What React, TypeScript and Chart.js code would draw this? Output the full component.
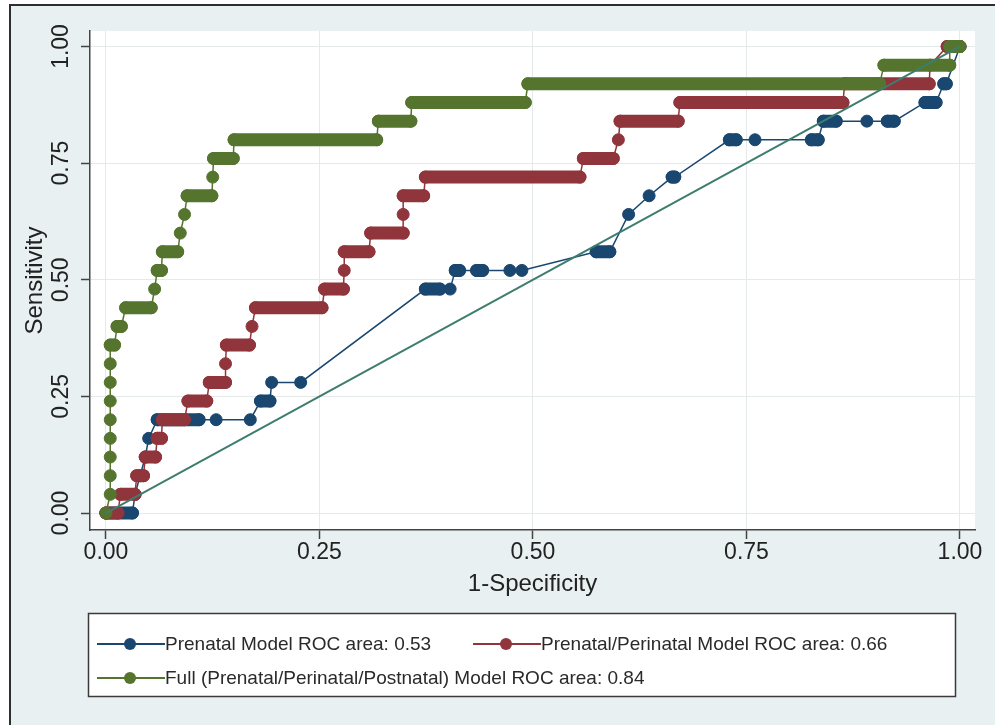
import React, { useEffect, useRef } from 'react';
import { Chart, registerables } from 'chart.js';

Chart.register(...registerables);

// ---------------- data ----------------
const seriesLabels = [
  'Prenatal Model ROC area: 0.53',
  'Prenatal/Perinatal Model ROC area: 0.66',
  'Full (Prenatal/Perinatal/Postnatal) Model ROC area: 0.84',
];
const seriesColors = ['#1a476f', '#90353b', '#55752f'];
const referenceColor = '#3e7d6e';

// each step: [1-specificity start, 1-specificity end, sensitivity]
const prenatalSteps: number[][] = [
  [0, 0.031, 0],
  [0.034, 0.034, 0.04],
  [0.040, 0.040, 0.08],
  [0.046, 0.046, 0.12],
  [0.050, 0.050, 0.16],
  [0.060, 0.109, 0.20],
  [0.129, 0.129, 0.20],
  [0.169, 0.169, 0.20],
  [0.181, 0.192, 0.24],
  [0.194, 0.194, 0.28],
  [0.228, 0.228, 0.28],
  [0.374, 0.391, 0.48],
  [0.403, 0.403, 0.48],
  [0.409, 0.414, 0.52],
  [0.434, 0.441, 0.52],
  [0.473, 0.473, 0.52],
  [0.487, 0.487, 0.52],
  [0.574, 0.590, 0.56],
  [0.612, 0.612, 0.64],
  [0.636, 0.636, 0.68],
  [0.663, 0.666, 0.72],
  [0.730, 0.738, 0.80],
  [0.760, 0.760, 0.80],
  [0.826, 0.834, 0.80],
  [0.840, 0.855, 0.84],
  [0.891, 0.891, 0.84],
  [0.915, 0.923, 0.84],
  [0.959, 0.972, 0.88],
  [0.981, 0.984, 0.92],
  [1, 1, 1],
];

const perinatalSteps: number[][] = [
  [0, 0.014, 0],
  [0.017, 0.034, 0.04],
  [0.036, 0.044, 0.08],
  [0.046, 0.058, 0.12],
  [0.060, 0.065, 0.16],
  [0.066, 0.092, 0.20],
  [0.096, 0.118, 0.24],
  [0.121, 0.140, 0.28],
  [0.140, 0.140, 0.32],
  [0.141, 0.168, 0.36],
  [0.171, 0.171, 0.40],
  [0.175, 0.253, 0.44],
  [0.256, 0.278, 0.48],
  [0.279, 0.279, 0.52],
  [0.279, 0.308, 0.56],
  [0.310, 0.348, 0.60],
  [0.348, 0.348, 0.64],
  [0.348, 0.372, 0.68],
  [0.374, 0.555, 0.72],
  [0.559, 0.594, 0.76],
  [0.600, 0.600, 0.80],
  [0.602, 0.670, 0.84],
  [0.672, 0.863, 0.88],
  [0.865, 0.964, 0.92],
  [0.965, 0.965, 0.96],
  [0.985, 1, 1],
];

const fullSteps: number[][] = [
  [0, 0, 0],
  [0.005, 0.005, 0.04],
  [0.005, 0.005, 0.08],
  [0.005, 0.005, 0.12],
  [0.005, 0.005, 0.16],
  [0.005, 0.005, 0.20],
  [0.005, 0.005, 0.24],
  [0.005, 0.005, 0.28],
  [0.005, 0.005, 0.32],
  [0.005, 0.010, 0.36],
  [0.013, 0.018, 0.40],
  [0.023, 0.053, 0.44],
  [0.057, 0.057, 0.48],
  [0.060, 0.065, 0.52],
  [0.066, 0.084, 0.56],
  [0.087, 0.087, 0.60],
  [0.092, 0.092, 0.64],
  [0.095, 0.124, 0.68],
  [0.125, 0.125, 0.72],
  [0.126, 0.149, 0.76],
  [0.150, 0.317, 0.80],
  [0.319, 0.357, 0.84],
  [0.358, 0.491, 0.88],
  [0.494, 0.906, 0.92],
  [0.911, 0.988, 0.96],
  [0.988, 1, 1],
];

const referenceLine: number[][] = [
  [0, 0],
  [1, 1],
];

const xTickValues = [0, 0.25, 0.5, 0.75, 1];
const xTickLabels = ['0.00', '0.25', '0.50', '0.75', '1.00'];
const yTickValues = [0, 0.25, 0.5, 0.75, 1];
const yTickLabels = ['0.00', '0.25', '0.50', '0.75', '1.00'];
const xLimits = [-0.0187, 1.0176];
const yLimits = [-0.0364, 1.0332];
const xTitle = '1-Specificity';
const yTitle = 'Sensitivity';

// ---------------- helpers ----------------
const FONT = '"Liberation Sans", Arial, Helvetica, sans-serif';
const FRAME_BG = '#e8f0f2';

function curvePoints(steps: number[][]) {
  const pts: { x: number; y: number }[] = [];
  steps.forEach(([x0, x1, y]) => {
    pts.push({ x: x0, y });
    if (x1 !== x0) pts.push({ x: x1, y });
  });
  return pts;
}

function runPoints(steps: number[][]) {
  const pts: { x: number; y: number | null }[] = [];
  steps.forEach(([x0, x1, y]) => {
    if (x1 > x0) {
      pts.push({ x: x0, y }, { x: x1, y }, { x: x1, y: null });
    }
  });
  return pts;
}

const backgroundPlugin = {
  id: 'stataBackground',
  beforeDraw(chart: any) {
    const { ctx, chartArea, width, height } = chart;
    ctx.save();
    ctx.fillStyle = '#ffffff';
    ctx.fillRect(0, 0, width, height);
    ctx.fillStyle = FRAME_BG;
    ctx.fillRect(10, 5, width - 10, height - 5);
    ctx.strokeStyle = '#2e2e2e';
    ctx.lineWidth = 2;
    ctx.beginPath();
    ctx.moveTo(10, height);
    ctx.lineTo(10, 5);
    ctx.lineTo(width, 5);
    ctx.stroke();
    ctx.fillStyle = '#ffffff';
    ctx.fillRect(chartArea.left, chartArea.top, chartArea.right - chartArea.left, chartArea.bottom - chartArea.top);
    ctx.restore();
  },
};

const legendPlugin = {
  id: 'stataLegend',
  afterDraw(chart: any) {
    const ctx = chart.ctx;
    ctx.save();
    const bx = 88, by = 613, bw = 867, bh = 83;
    ctx.fillStyle = '#ffffff';
    ctx.fillRect(bx, by, bw, bh);
    ctx.strokeStyle = '#3a3a3a';
    ctx.lineWidth = 1.5;
    ctx.strokeRect(bx + 0.5, by + 0.5, bw, bh);
    const slots = [
      { x: 97, y: 644 },
      { x: 473, y: 644 },
      { x: 97, y: 678 },
    ];
    slots.forEach((p, i) => {
      const c = seriesColors[i];
      ctx.strokeStyle = c;
      ctx.lineWidth = 2;
      ctx.beginPath();
      ctx.moveTo(p.x, p.y);
      ctx.lineTo(p.x + 68, p.y);
      ctx.stroke();
      ctx.fillStyle = c;
      ctx.beginPath();
      ctx.arc(p.x + 33, p.y, 6, 0, Math.PI * 2);
      ctx.fill();
      ctx.fillStyle = '#2a2a2a';
      ctx.font = `19px ${FONT}`;
      ctx.textAlign = 'left';
      ctx.textBaseline = 'middle';
      ctx.fillText(seriesLabels[i], p.x + 68, p.y + 1);
    });
    ctx.restore();
  },
};

const allSteps = [prenatalSteps, perinatalSteps, fullSteps];

export default function App() {
  const ref = useRef<HTMLCanvasElement | null>(null);

  useEffect(() => {
    if (!ref.current) return;
    Chart.defaults.font.family = FONT;

    const datasets: any[] = [];
    allSteps.forEach((steps, i) => {
      const color = seriesColors[i];
      datasets.push({
        label: seriesLabels[i] + ' runs',
        data: runPoints(steps),
        showLine: true,
        spanGaps: false,
        borderColor: color,
        backgroundColor: color,
        borderWidth: 13,
        borderCapStyle: 'round',
        borderJoinStyle: 'round',
        pointRadius: 0,
        pointHoverRadius: 0,
        order: 20 - i * 2,
      });
      datasets.push({
        label: seriesLabels[i],
        data: curvePoints(steps),
        showLine: true,
        borderColor: color,
        backgroundColor: color,
        borderWidth: 1.5,
        pointRadius: 6,
        pointBorderWidth: 1,
        pointBackgroundColor: color,
        pointBorderColor: color,
        pointHoverRadius: 6,
        order: 19 - i * 2,
      });
    });
    datasets.push({
      label: 'Reference',
      data: referenceLine.map(([x, y]) => ({ x, y })),
      showLine: true,
      borderColor: referenceColor,
      borderWidth: 2,
      pointRadius: 0,
      order: 1,
    });

    const chart = new Chart(ref.current, {
      type: 'scatter',
      data: { datasets },
      options: {
        animation: false,
        responsive: false,
        devicePixelRatio: 1,
        events: [],
        layout: { padding: { left: 21, top: 31, right: 20, bottom: 126 } },
        plugins: {
          legend: { display: false },
          tooltip: { enabled: false },
        },
        scales: {
          x: {
            type: 'linear',
            min: xLimits[0],
            max: xLimits[1],
            afterBuildTicks: (s: any) => {
              s.ticks = xTickValues.map((v) => ({ value: v }));
            },
            afterFit: (s: any) => {
              s.height = 69;
            },
            ticks: {
              autoSkip: false,
              maxRotation: 0,
              minRotation: 0,
              padding: 0,
              color: '#222222',
              font: { size: 23 },
              callback: (_v: any, i: number) => xTickLabels[i],
            },
            grid: { color: '#e4e9e9', lineWidth: 1, drawTicks: true, tickLength: 9, tickColor: '#444444', tickWidth: 1.5 },
            border: { color: '#444444', width: 1.5 },
            title: { display: true, text: xTitle, color: '#222222', font: { size: 24 }, padding: 0 },
          },
          y: {
            type: 'linear',
            min: yLimits[0],
            max: yLimits[1],
            afterBuildTicks: (s: any) => {
              s.ticks = yTickValues.map((v) => ({ value: v }));
            },
            afterFit: (s: any) => {
              s.width = 69;
            },
            ticks: {
              autoSkip: false,
              minRotation: 90,
              maxRotation: 90,
              crossAlign: 'center',
              padding: -3,
              color: '#222222',
              font: { size: 23 },
              callback: (_v: any, i: number) => yTickLabels[i],
            },
            grid: { color: '#e4e9e9', lineWidth: 1, drawTicks: true, tickLength: 9, tickColor: '#444444', tickWidth: 1.5 },
            border: { color: '#444444', width: 1.5 },
            title: { display: true, text: yTitle, color: '#222222', font: { size: 24 }, padding: 0 },
          },
        },
      } as any,
      plugins: [backgroundPlugin, legendPlugin],
    });

    return () => chart.destroy();
  }, []);

  return (
    <div style={{ position: 'absolute', left: 0, top: 0, width: 995, height: 725 }}>
      <canvas ref={ref} width={995} height={725} style={{ display: 'block', width: 995, height: 725 }} />
    </div>
  );
}
